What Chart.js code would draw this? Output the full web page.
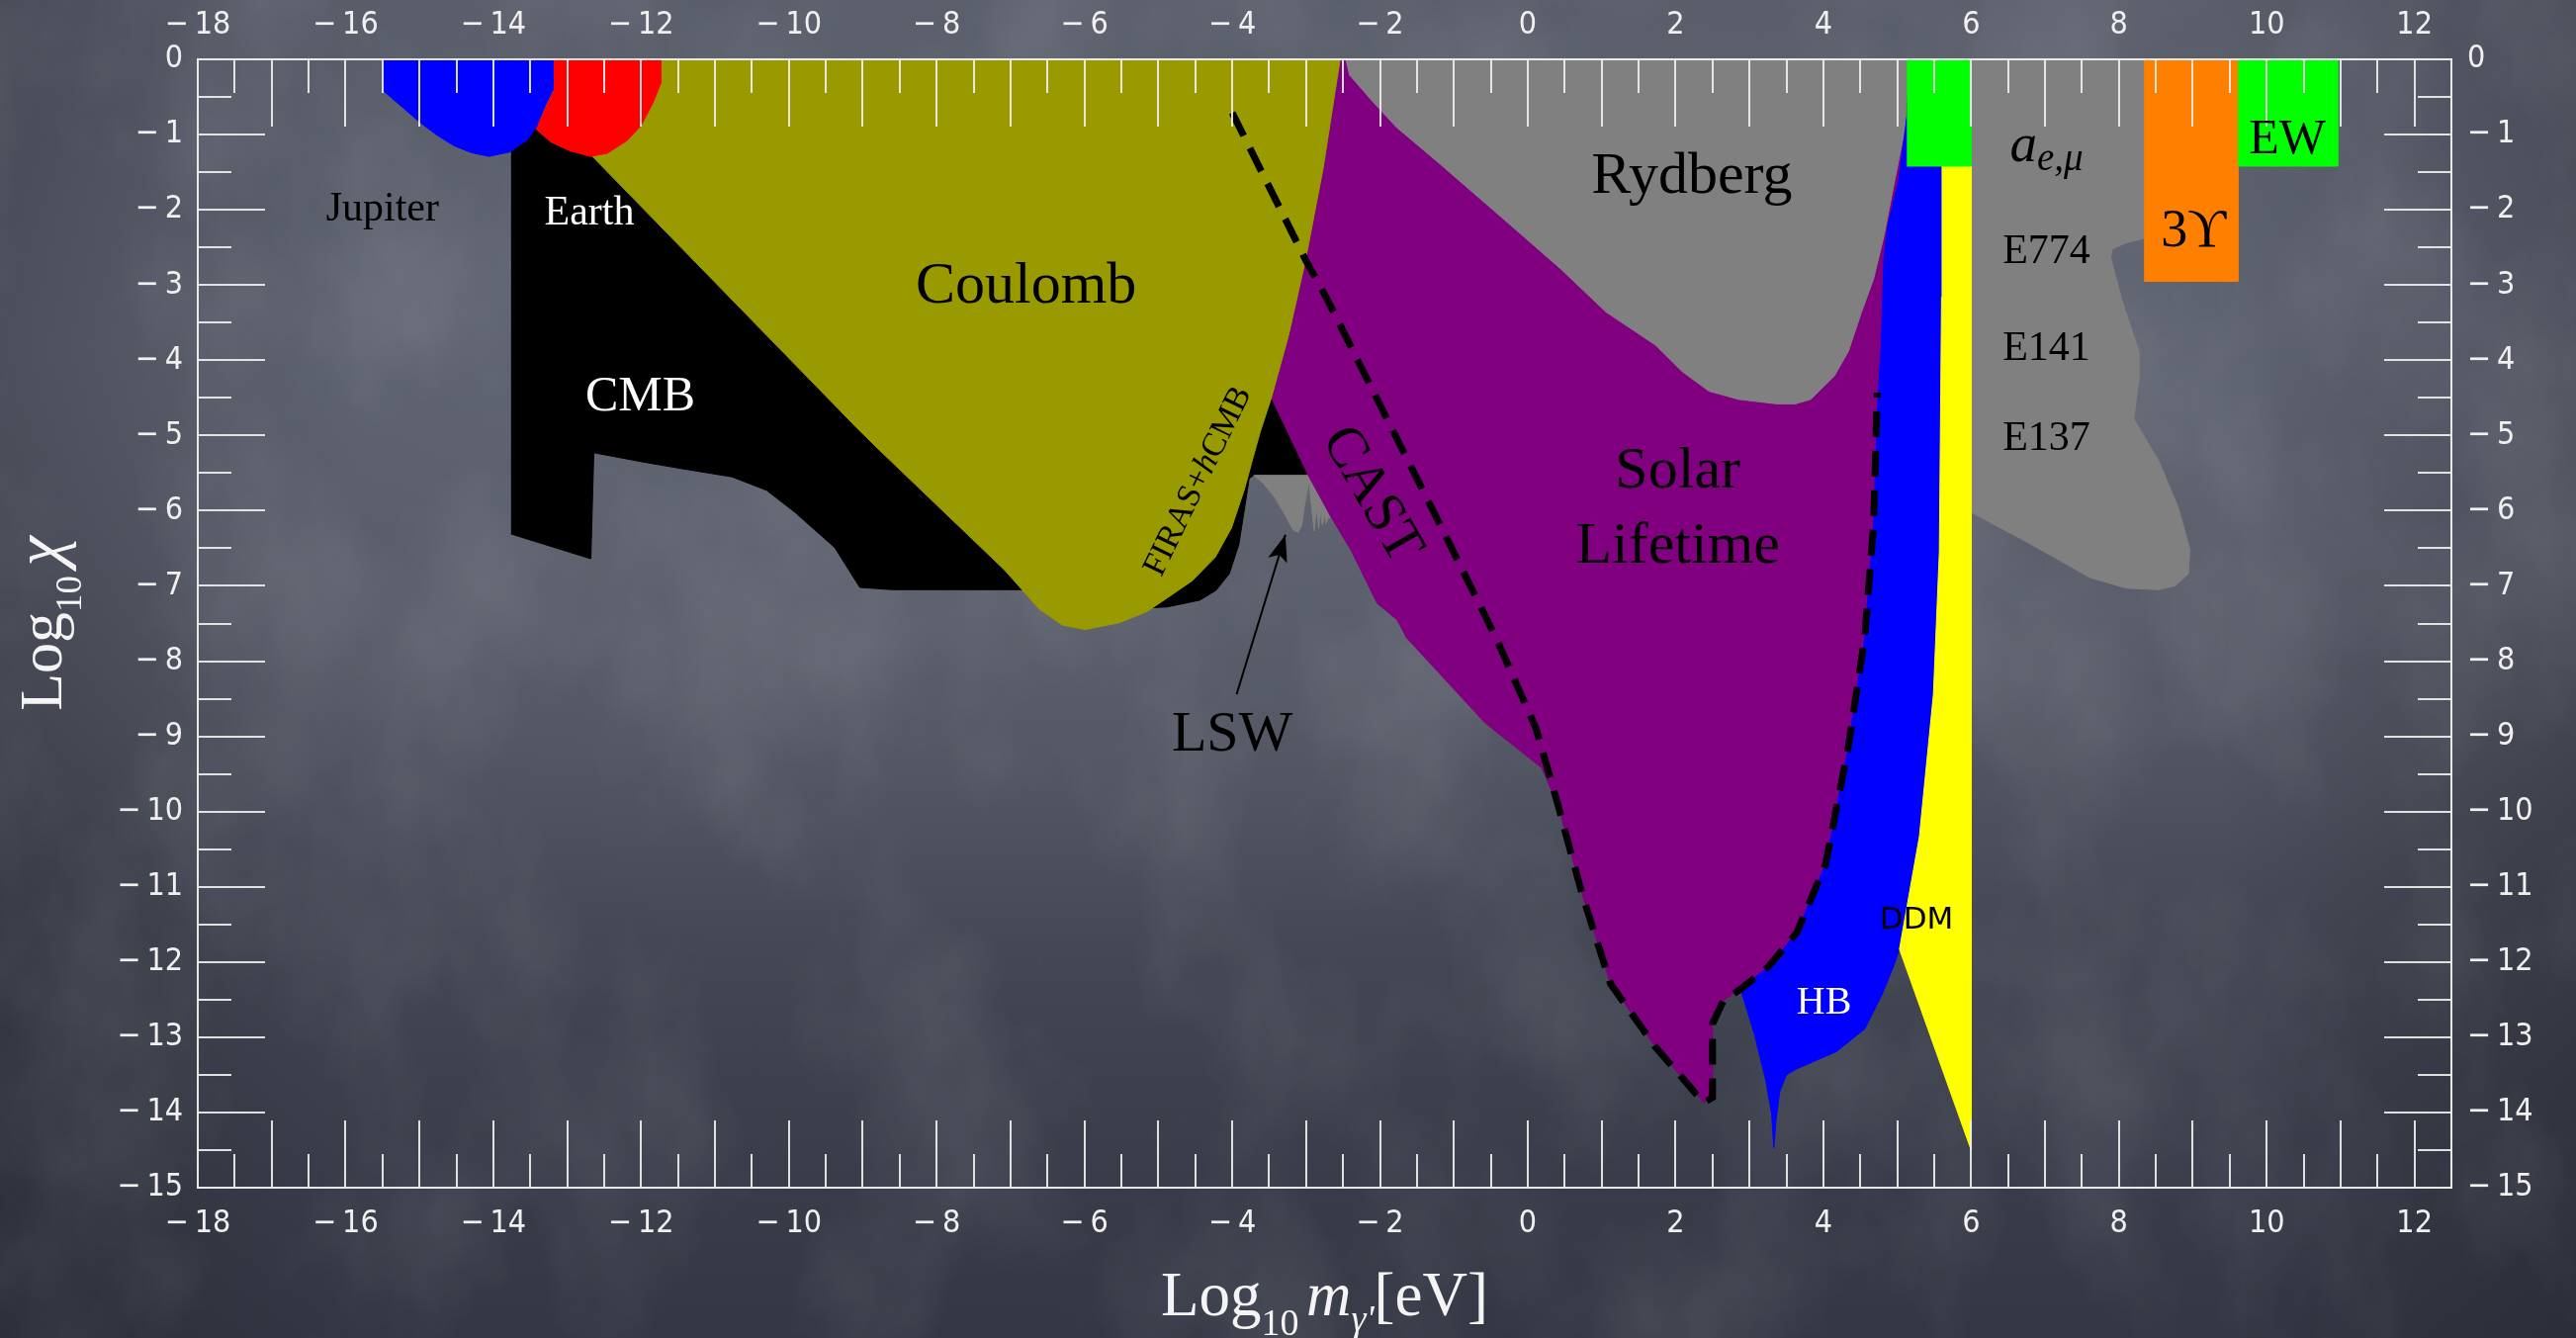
<!DOCTYPE html>
<html>
<head>
<meta charset="utf-8">
<title>Hidden photon exclusion limits</title>
<script src="https://cdn.jsdelivr.net/npm/chart.js@4.4.1/dist/chart.umd.min.js"></script>
<style>
  html, body { margin: 0; padding: 0; width: 2605px; height: 1353px; overflow: hidden; }
  body {
    background-color: #4c505d;
    background-image:
      radial-gradient(ellipse 50% 40% at 40% 32%, rgba(110,115,128,0.45), rgba(110,115,128,0) 100%),
      radial-gradient(ellipse 35% 38% at 80% 30%, rgba(104,109,122,0.35), rgba(104,109,122,0) 100%),
      linear-gradient(90deg, rgba(18,20,28,0.25) 0%, rgba(18,20,28,0) 14%, rgba(18,20,28,0) 86%, rgba(18,20,28,0.25) 100%),
      linear-gradient(180deg, #595d6a 0%, #5b5f6c 26%, #4f535f 55%, #3d414d 80%, #333743 100%);
  }
  #chalk {
    position: absolute; left: 0; top: 0; width: 2605px; height: 1353px; opacity: 0.13;
    background-image: url("data:image/svg+xml;utf8,<svg xmlns='http://www.w3.org/2000/svg' width='2605' height='1353'><filter id='f'><feTurbulence type='fractalNoise' baseFrequency='0.006 0.004' numOctaves='5' seed='11'/><feColorMatrix type='matrix' values='0 0 0 0 0.80  0 0 0 0 0.83  0 0 0 0 0.90  0 0 0 1.6 -0.62'/></filter><rect width='100%' height='100%' filter='url(%23f)'/></svg>");
  }
  #wrap { position: absolute; left: 0; top: 0; width: 2605px; height: 1353px; }
</style>
</head>
<body>
<div id="chalk"></div>
<div id="wrap"><canvas id="chart"></canvas></div>
<script>
// Axis ticks (log10 of mass in eV, log10 of kinetic mixing)
const massTicks = [-18, -16, -14, -12, -10, -8, -6, -4, -2, 0, 2, 4, 6, 8, 10, 12];
const chiTicks = [0, -1, -2, -3, -4, -5, -6, -7, -8, -9, -10, -11, -12, -13, -14, -15];

// Excluded regions, [log10 m, log10 chi] boundary points
const jupiter = [[-15.51, 0], [-13.19, 0], [-13.19, -0.40], [-13.30, -0.62], [-13.42, -0.90], [-13.53, -1.06],
  [-13.77, -1.23], [-14.06, -1.29], [-14.30, -1.24], [-14.53, -1.15], [-14.76, -1.01], [-14.99, -0.84], [-15.51, -0.40]];
const earth = [[-13.19, 0], [-11.73, 0], [-11.73, -0.31], [-11.84, -0.58], [-12.00, -0.88], [-12.19, -1.08],
  [-12.46, -1.25], [-12.69, -1.29], [-12.98, -1.21], [-13.22, -1.10], [-13.42, -0.93], [-13.30, -0.66], [-13.19, -0.44]];
const cmb = [[-13.76, -1.20], [-13.45, -0.85], [-12.70, -1.25], [-9.00, -4.00], [-4.00, -4.20], [-3.45, -4.45],
  [-3.00, -4.90], [-2.85, -5.53], [-3.71, -5.53], [-3.77, -5.57], [-3.84, -6.01], [-3.91, -6.45], [-4.04, -6.84],
  [-4.22, -7.06], [-4.44, -7.19], [-4.88, -7.28], [-5.30, -7.30], [-6.60, -7.05], [-8.61, -7.05], [-9.04, -7.02],
  [-9.38, -6.49], [-9.92, -6.02], [-10.30, -5.73], [-10.77, -5.55], [-11.46, -5.44], [-11.99, -5.35],
  [-12.64, -5.23], [-12.68, -6.64], [-13.76, -6.31]];
const coulomb = [[-12.00, 0], [-2.54, 0], [-2.77, -1.45], [-3.01, -2.68], [-3.24, -3.68], [-3.47, -4.50],
  [-3.62, -4.95], [-3.72, -5.30], [-3.83, -5.70], [-4.01, -6.23], [-4.23, -6.62], [-4.54, -6.93], [-4.88, -7.16],
  [-5.15, -7.34], [-5.53, -7.49], [-5.99, -7.58], [-6.30, -7.52], [-6.61, -7.31], [-7.08, -6.79], [-8.77, -5.20],
  [-9.07, -4.91], [-12.68, -1.27], [-12.75, -1.20]];
const solar = [[-2.60, 0], [-2.83, -1.45], [-3.07, -2.68], [-3.30, -3.68], [-3.50, -4.45], [-3.47, -4.50],
  [-2.97, -5.53], [-2.66, -6.09], [-2.39, -6.53], [-2.04, -7.23], [-1.77, -7.45], [-1.64, -7.69], [-0.58, -8.82],
  [0.19, -9.42], [0.42, -9.95], [0.73, -11.08], [1.12, -12.29], [1.72, -13.12], [2.38, -13.87], [2.50, -13.80],
  [2.50, -12.82], [2.65, -12.51], [2.88, -12.36], [3.26, -12.06], [3.64, -11.61], [4.03, -10.70], [4.33, -9.19],
  [4.56, -7.69], [4.68, -6.18], [4.74, -4.45], [4.78, -3.88], [4.82, -2.66], [4.87, -2.22], [5.02, -1.61],
  [5.13, -0.77], [5.15, 0]];
const rydberg = [[-2.47, 0], [5.15, 0], [5.11, -0.90], [4.95, -1.69], [4.82, -2.35], [4.68, -2.92], [4.51, -3.38],
  [4.34, -3.88], [4.15, -4.21], [3.83, -4.52], [3.62, -4.58], [3.37, -4.58], [2.85, -4.52], [2.45, -4.41],
  [2.09, -4.15], [1.73, -3.80], [1.06, -3.36], [0.45, -2.79], [-0.32, -2.13], [-1.19, -1.39], [-1.78, -0.90],
  [-2.11, -0.55], [-2.42, -0.20]];
const lsw = [[-3.71, -5.53], [-2.80, -5.53], [-2.66, -6.09], [-2.70, -6.09], [-2.73, -6.17], [-2.75, -6.05],
  [-2.78, -6.19], [-2.81, -6.01], [-2.83, -6.23], [-2.86, -5.96], [-2.89, -6.27], [-2.93, -5.92], [-2.96, -5.61],
  [-3.02, -5.92], [-3.06, -6.20], [-3.11, -6.29], [-3.18, -6.25], [-3.29, -6.05], [-3.42, -5.83], [-3.56, -5.66]];
const hb = [[5.15, 0], [5.80, 0], [5.80, -11.00], [5.03, -11.83], [4.95, -12.06], [4.79, -12.44], [4.56, -12.89],
  [4.18, -13.19], [3.64, -13.42], [3.50, -13.50], [3.41, -13.72], [3.36, -14.10], [3.33, -14.47], [3.30, -14.02],
  [3.22, -13.57], [3.07, -12.97], [2.88, -12.36], [3.26, -12.06], [3.64, -11.61], [4.03, -10.70], [4.33, -9.19],
  [4.56, -7.69], [4.68, -6.18], [4.74, -4.45], [4.78, -3.88], [4.82, -2.66], [4.87, -2.22], [5.02, -1.61],
  [5.13, -0.77]];
const ddm = [[5.60, -1.42], [6.00, -1.42], [6.00, -14.50], [5.03, -11.83], [5.30, -10.33], [5.49, -8.44],
  [5.57, -6.55], [5.60, -3.16]];
const beamDump = [[6.00, 0], [8.34, 0], [8.34, -2.38], [8.10, -2.44], [7.91, -2.52], [7.89, -2.64], [8.05, -3.23],
  [8.27, -3.88], [8.27, -4.26], [8.20, -4.78], [8.54, -5.34], [8.80, -5.95], [8.96, -6.51], [8.94, -6.84],
  [8.76, -7.00], [8.54, -7.05], [8.10, -7.03], [7.61, -6.89], [6.76, -6.42], [6.00, -6.02]];
const aeMu = [[5.13, 0], [6.00, 0], [6.00, -1.42], [5.13, -1.42]];
const upsilon = [[8.34, 0], [9.61, 0], [9.61, -2.95], [8.34, -2.95]];
const electroweak = [[9.61, 0], [10.96, 0], [10.96, -1.42], [9.61, -1.42]];

// CAST sensitivity (dashed) and the LSW pointer
const castLine = [[-4.00, -0.71], [-3.00, -2.68], [-2.73, -3.16], [-1.96, -4.67], [-1.19, -6.18], [-0.43, -7.69],
  [0.11, -8.89], [0.42, -9.95], [0.73, -11.08], [1.12, -12.29], [1.72, -13.12], [2.38, -13.87], [2.50, -13.80],
  [2.50, -12.82], [2.65, -12.51], [2.88, -12.36], [3.26, -12.06], [3.64, -11.61], [4.03, -10.70], [4.33, -9.19],
  [4.56, -7.69], [4.68, -6.18], [4.73, -4.43]];
const lswArrow = [[-3.94, -8.44], [-3.28, -6.32]];

const SERIF = "'Liberation Serif','Times New Roman',Times,'DejaVu Serif',serif";
const SANS = "'DejaVu Sans','Liberation Sans',sans-serif";
const TICKFONT = "'DejaVu Sans Condensed','Liberation Sans Narrow','DejaVu Sans',sans-serif";

// Region labels, anchored at baseline centre in data units
const regionLabels = [
  { parts: [{ t: 'Jupiter' }], at: [-15.50, -2.14], size: 42, color: '#000' },
  { parts: [{ t: 'Earth' }], at: [-12.70, -2.20], size: 42, color: '#fff' },
  { parts: [{ t: 'CMB' }], at: [-12.01, -4.67], size: 50, color: '#fff' },
  { parts: [{ t: 'Coulomb' }], at: [-6.79, -3.24], size: 60, color: '#000' },
  { parts: [{ t: 'Rydberg' }], at: [2.22, -1.78], size: 60, color: '#000' },
  { parts: [{ t: 'Solar' }], at: [2.03, -5.69], size: 60, color: '#000' },
  { parts: [{ t: 'Lifetime' }], at: [2.03, -6.69], size: 60, color: '#000' },
  { parts: [{ t: 'LSW' }], at: [-4.00, -9.19], size: 58, color: '#000' },
  { parts: [{ t: 'HB' }], at: [4.01, -12.68], size: 40, color: '#fff' },
  { parts: [{ t: 'DDM' }], at: [5.26, -11.55], size: 31, color: '#000', family: SANS },
  { parts: [{ t: 'a', i: true }, { t: 'e,\u03bc', i: true, s: 0.7, dy: 0.17 }], at: [7.02, -1.35], size: 55, color: '#000' },
  { parts: [{ t: 'E774' }], at: [7.02, -2.71], size: 42, color: '#000' },
  { parts: [{ t: 'E141' }], at: [7.02, -3.99], size: 42, color: '#000' },
  { parts: [{ t: 'E137' }], at: [7.02, -5.19], size: 42, color: '#000' },
  { parts: [{ t: '3\u03d2' }], at: [9.01, -2.48], size: 54, color: '#000' },
  { parts: [{ t: 'EW' }], at: [10.28, -1.25], size: 50, color: '#000' },
  { parts: [{ t: 'CAST' }], at: [-2.12, -5.79], size: 58, color: '#000', rot: 60, mid: true },
  { parts: [{ t: 'FIRAS+' }, { t: 'h', i: true }, { t: 'CMB' }], at: [-4.46, -5.61], size: 34, color: '#000', rot: -64, mid: true }
];

function pts(list) { return list.map(p => ({ x: p[0], y: p[1] })); }
function region(label, list, color, order) {
  return {
    label, data: pts(list), showLine: true, fill: 'shape', tension: 0,
    backgroundColor: color, borderColor: color, borderWidth: 1,
    pointRadius: 0, pointHoverRadius: 0, order
  };
}

function tickText(v) {
  if (v === 0) return '0';
  return v < 0 ? '\u2212\u2009' + Math.abs(v) : String(v);
}

function partFont(p, size, family) {
  const s = Math.round(size * (p.s || 1));
  return (p.i ? 'italic ' : '') + s + 'px ' + family;
}

function drawRich(ctx, parts, size, family, x, y, rotDeg, middle) {
  ctx.save();
  ctx.translate(x, y);
  if (rotDeg) ctx.rotate(rotDeg * Math.PI / 180);
  ctx.textBaseline = middle ? 'middle' : 'alphabetic';
  ctx.textAlign = 'left';
  let total = 0;
  const widths = parts.map(p => {
    ctx.font = partFont(p, size, family);
    const w = ctx.measureText(p.t).width + (p.gap || 0) * size;
    total += w;
    return w;
  });
  let cx = -total / 2;
  parts.forEach((p, k) => {
    ctx.font = partFont(p, size, family);
    ctx.fillText(p.t, cx + (p.gap || 0) * size, (p.dy || 0) * size);
    cx += widths[k];
  });
  ctx.restore();
}

const overlay = {
  id: 'overlay',
  afterDatasetsDraw(chart) {
    const { ctx, chartArea: a } = chart;
    const xs = chart.scales.x, ys = chart.scales.y;
    ctx.save();

    // inward tick marks: long at whole units, short at halves
    ctx.strokeStyle = 'rgba(238,238,238,0.92)';
    ctx.lineWidth = 2;
    ctx.beginPath();
    for (let k = 1; -18 + k * 0.5 < 12.5; k++) {
      const v = -18 + k * 0.5;
      const px = Math.round(xs.getPixelForValue(v));
      const len = Number.isInteger(v) ? 68 : 34;
      ctx.moveTo(px, a.top); ctx.lineTo(px, a.top + len);
      ctx.moveTo(px, a.bottom); ctx.lineTo(px, a.bottom - len);
    }
    for (let k = 1; k < 30; k++) {
      const v = -15 + k * 0.5;
      const py = Math.round(ys.getPixelForValue(v));
      const len = Number.isInteger(v) ? 68 : 34;
      ctx.moveTo(a.left, py); ctx.lineTo(a.left + len, py);
      ctx.moveTo(a.right, py); ctx.lineTo(a.right - len, py);
    }
    ctx.stroke();

    // arrow head on the LSW pointer
    const tail = lswArrow[0], tip = lswArrow[lswArrow.length - 1];
    const tx = xs.getPixelForValue(tip[0]), ty = ys.getPixelForValue(tip[1]);
    const sx = xs.getPixelForValue(tail[0]), sy = ys.getPixelForValue(tail[1]);
    const ang = Math.atan2(ty - sy, tx - sx);
    const hl = 27, hw = 10;
    ctx.fillStyle = '#000';
    ctx.beginPath();
    ctx.moveTo(tx, ty);
    ctx.lineTo(tx - hl * Math.cos(ang) + hw * Math.sin(ang), ty - hl * Math.sin(ang) - hw * Math.cos(ang));
    ctx.lineTo(tx - hl * 0.78 * Math.cos(ang), ty - hl * 0.78 * Math.sin(ang));
    ctx.lineTo(tx - hl * Math.cos(ang) - hw * Math.sin(ang), ty - hl * Math.sin(ang) + hw * Math.cos(ang));
    ctx.closePath();
    ctx.fill();

    // region names
    regionLabels.forEach(l => {
      ctx.fillStyle = l.color;
      drawRich(ctx, l.parts, l.size, l.family || SERIF,
        xs.getPixelForValue(l.at[0]), ys.getPixelForValue(l.at[1]), l.rot || 0, l.mid);
    });
    ctx.restore();
  },
  afterDraw(chart) {
    const { ctx, chartArea: a } = chart;
    ctx.save();
    ctx.fillStyle = '#f4f4f4';
    // horizontal axis title
    drawRich(ctx, [
      { t: 'Log' }, { t: '10', s: 0.6, dy: 0.32 },
      { t: 'm', i: true, gap: 0.12 }, { t: '\u03b3\'', i: true, s: 0.6, dy: 0.25 },
      { t: '[eV]' }
    ], 63, SERIF, (a.left + a.right) / 2, 1330, 0, false);
    // vertical axis title
    drawRich(ctx, [
      { t: 'Log' }, { t: '10', s: 0.6, dy: 0.32 }, { t: '\u03c7', i: true, s: 1.12, gap: 0.15 }
    ], 62, SERIF, 62, (a.top + a.bottom) / 2, -90, false);
    ctx.restore();
  }
};

const AXIS = 'rgba(240,240,240,0.95)';
function axis(position, min, max, list, fitSize, padding) {
  const horizontal = position === 'top' || position === 'bottom';
  return {
    type: 'linear', position, min, max, display: true,
    grid: { display: false, drawTicks: false },
    border: { display: true, color: AXIS, width: 2, z: 1 },
    ticks: {
      autoSkip: false, maxRotation: 0, minRotation: 0, padding,
      color: '#f0f0f0', font: { family: TICKFONT, size: 32 },
      callback: v => tickText(v)
    },
    afterBuildTicks: s => { s.ticks = list.map(v => ({ value: v })); },
    afterFit: s => { if (horizontal) s.height = fitSize; else s.width = fitSize; }
  };
}

new Chart(document.getElementById('chart'), {
  type: 'scatter',
  data: {
    datasets: [
      { label: 'CAST', data: pts(castLine), showLine: true, fill: false, borderColor: '#000', borderWidth: 7,
        borderDash: [26, 14], borderCapStyle: 'butt', pointRadius: 0, tension: 0, order: -2 },
      { label: 'LSW pointer', data: pts(lswArrow), showLine: true, fill: false, borderColor: '#000', borderWidth: 2,
        pointRadius: 0, tension: 0, order: -1 },
      region('Jupiter', jupiter, '#0000ff', 0),
      region('Earth', earth, '#ff0000', 0),
      region('EW', electroweak, '#00ff00', 0),
      region('a_e,mu', aeMu, '#00ff00', 0),
      region('3Upsilon', upsilon, '#ff8000', 1),
      region('DDM', ddm, '#ffff00', 2),
      region('HB', hb, '#0000ff', 3),
      region('Rydberg', rydberg, '#808080', 4),
      region('Coulomb', coulomb, '#999900', 5),
      region('Solar Lifetime', solar, '#800080', 6),
      region('LSW', lsw, '#808080', 7),
      region('CMB', cmb, '#000000', 8),
      region('Beam dump', beamDump, '#808080', 9)
    ]
  },
  options: {
    responsive: true, maintainAspectRatio: false, devicePixelRatio: 1,
    animation: false, events: [],
    layout: { padding: 0, autoPadding: false },
    plugins: { legend: { display: false }, tooltip: { enabled: false } },
    scales: {
      x: axis('bottom', -18, 12.5, massTicks, 152, 17),
      x2: axis('top', -18, 12.5, massTicks, 60, 15),
      y: axis('left', -15, 0, chiTicks, 200, 15),
      y2: axis('right', -15, 0, chiTicks, 126, 16)
    }
  },
  plugins: [overlay]
});
</script>
</body>
</html>
